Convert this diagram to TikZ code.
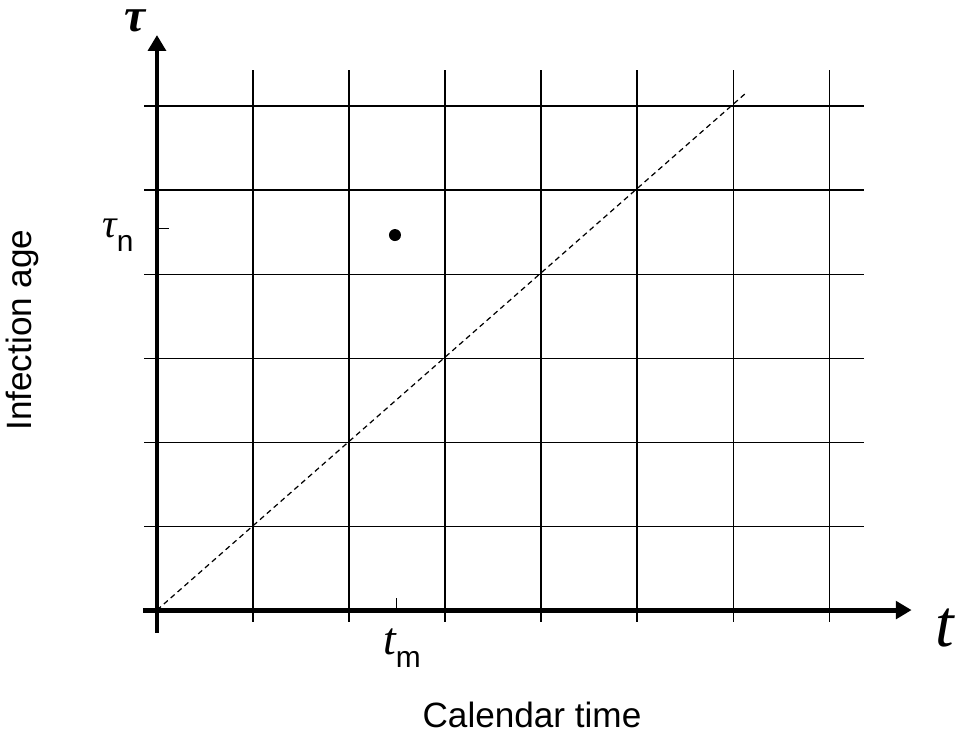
\documentclass[tikz,border=0pt]{standalone}
\usepackage{fontspec}
\setmainfont{Liberation Sans}
\newfontfamily\greekfont{Liberation Serif}
\usetikzlibrary{arrows.meta}

\begin{document}
\begin{tikzpicture}[
                x=1.92cm, y=1.68cm,
                gridline/.style={black, line width=0.6pt},
                axis/.style={black, line width=2.8pt, -{Triangle[length=9pt, width=10pt]}},
                tick/.style={black, line width=0.6pt},
                diag/.style={black, line width=0.7pt, dash pattern=on 3pt off 2.2pt},
                caption/.style={font=\fontsize{20}{24}\selectfont, inner sep=0pt},
                sym/.style={font=\greekfont\itshape, inner sep=0pt}
            ]
            \useasboundingbox (-1.635,-1.536) rectangle (8.51,7.262);

            % grid
            \foreach \i in {1,...,7}
                \draw[gridline] (\i,-0.14) -- (\i,6.43);
            \foreach \j in {1,...,6}
                \draw[gridline] (-0.135,\j) -- (7.36,\j);

            % axes
            \coordinate (origin) at (0,0);
            \coordinate (ybottom) at (0,-0.27);
            \coordinate (ytop) at (0,6.845);
            \coordinate (xleft) at (-0.146,0);
            \coordinate (xright) at (7.86,0);
            \draw[axis] (ybottom) -- (ytop);
            \draw[axis] (xleft) -- (xright);

            % diagonal
            \coordinate (diagend) at (6.13,6.15);
            \draw[diag] (origin) -- (diagend);

            % ticks
            \coordinate (tmtick) at (2.49,0);
            \coordinate (tntick) at (0,4.54);
            \draw[tick] (tmtick) -- ++(0,0.143);
            \draw[tick] (tntick) -- ++(0.125,0);

            % point
            \node[circle, fill=black, inner sep=0pt, minimum size=0.24cm] (point) at (2.479,4.464) {};

            % labels
            \node[sym, font=\greekfont\itshape\bfseries\fontsize{27}{30}\selectfont,
                  text height=0.46em, text depth=0pt] (taulabel) at (-0.229,6.93) {τ};
            \node[sym, font=\greekfont\itshape\fontsize{38}{44}\selectfont] (tlabel) at (8.21,-0.214) {t};
            \node[sym, font=\greekfont\itshape\fontsize{23}{26}\selectfont] (taun) at (-0.406,4.464)
                {τ\raisebox{-0.35em}{\fontsize{17}{20}\selectfont\normalfont n}};
            \node[sym, font=\greekfont\itshape\fontsize{26}{30}\selectfont] (tm) at (2.552,-0.452)
                {t\raisebox{-0.3em}{\fontsize{17}{20}\selectfont\normalfont m}};
            \node[caption] (xtitle) at (3.906,-1.25) {Calendar time};
            \node[caption, rotate=90] (ytitle) at (-1.406,3.333) {Infection age};
        \end{tikzpicture}
\end{document}
